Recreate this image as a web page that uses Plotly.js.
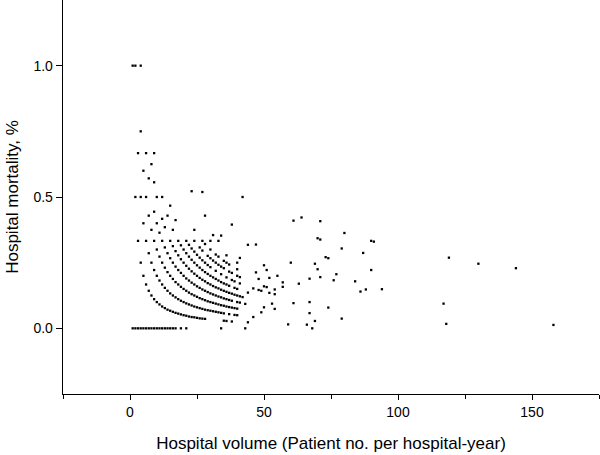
<!DOCTYPE html>
<html>
<head>
<meta charset="utf-8">
<script src="https://cdn.plot.ly/plotly-3.0.1.min.js"></script>
<style>html,body{margin:0;padding:0;background:#fff}#chart{width:600px;height:455px}</style>
</head>
<body>
<div id="chart"></div>
<script>
// Low-volume hospitals: one entry per volume, with the mortality values read at that volume
const columnVolumes = [1,2,3,4,5,6,7,8,9,10,11,12,13,14,15,16,17,18,19,20,21,22,23,24,25,26,27,28,29,30,31,32,33,34,35,36,37,38,39,40,41,42];
const columnMortality = [
  [0, 1],
  [0, 0.5, 1],
  [0, 0.333, 0.667],
  [0, 0.25, 0.5, 0.75, 1],
  [0, 0.2, 0.4, 0.6],
  [0, 0.167, 0.333, 0.5, 0.667],
  [0, 0.143, 0.286, 0.429, 0.571],
  [0, 0.125, 0.25, 0.375, 0.625],
  [0, 0.111, 0.222, 0.333, 0.444, 0.556, 0.667],
  [0, 0.1, 0.2, 0.3, 0.4, 0.5],
  [0, 0.091, 0.182, 0.273, 0.364],
  [0, 0.083, 0.167, 0.25, 0.333, 0.417, 0.5],
  [0, 0.077, 0.154, 0.231, 0.308, 0.385],
  [0, 0.071, 0.143, 0.214, 0.286, 0.429],
  [0, 0.067, 0.133, 0.2, 0.267, 0.333, 0.467],
  [0, 0.063, 0.125, 0.188, 0.25, 0.313, 0.375],
  [0, 0.059, 0.118, 0.176, 0.235, 0.294, 0.412],
  [0.056, 0.111, 0.167, 0.222, 0.278, 0.333],
  [0, 0.053, 0.105, 0.158, 0.211, 0.263, 0.316],
  [0.05, 0.1, 0.15, 0.2, 0.25, 0.3],
  [0, 0.048, 0.095, 0.143, 0.19, 0.238, 0.286, 0.333],
  [0.045, 0.091, 0.136, 0.182, 0.227, 0.273, 0.318],
  [0.043, 0.087, 0.13, 0.174, 0.217, 0.261, 0.304, 0.522],
  [0.042, 0.083, 0.125, 0.167, 0.208, 0.25, 0.292, 0.333, 0.375],
  [0.04, 0.08, 0.12, 0.16, 0.2, 0.24, 0.28],
  [0.038, 0.077, 0.115, 0.154, 0.192, 0.231, 0.269, 0.308],
  [0.037, 0.074, 0.111, 0.148, 0.185, 0.222, 0.259, 0.296, 0.333, 0.519],
  [0.036, 0.071, 0.107, 0.143, 0.179, 0.214, 0.25, 0.321, 0.429],
  [0.069, 0.103, 0.138, 0.172, 0.207, 0.241, 0.276],
  [0.067, 0.1, 0.133, 0.167, 0.2, 0.233, 0.267, 0.3, 0.333],
  [0.065, 0.097, 0.129, 0.161, 0.194, 0.258, 0.355],
  [0.063, 0.094, 0.125, 0.156, 0.188, 0.219, 0.25, 0.281],
  [0.061, 0.091, 0.121, 0.152, 0.182, 0.242, 0.273, 0.333],
  [0, 0.059, 0.088, 0.118, 0.147, 0.176, 0.206, 0.235, 0.353],
  [0.029, 0.057, 0.086, 0.114, 0.143, 0.171, 0.229, 0.257],
  [0.028, 0.083, 0.111, 0.139, 0.167, 0.194, 0.25, 0.278],
  [0.054, 0.081, 0.108, 0.135, 0.162, 0.216, 0.243],
  [0.026, 0.079, 0.105, 0.132, 0.184, 0.211, 0.395],
  [0.051, 0.077, 0.128, 0.154, 0.179],
  [0.05, 0.075, 0.1, 0.125, 0.15, 0.2, 0.225, 0.25],
  [0.098, 0.122, 0.171, 0.195, 0.268],
  [0.119, 0.5]
];

// Higher-volume hospitals, read point by point
const highVolume = [43, 43, 44, 44, 44, 46, 46, 47, 47, 48, 48, 49, 49, 50, 50, 50, 51, 51, 52, 52, 53, 54, 54, 54, 55, 57, 57,
  59, 60, 61, 61, 63, 64, 66, 67, 67, 67, 68, 69, 69, 70, 70, 71, 71, 71, 73, 74, 74, 76, 77, 79, 79, 80, 84, 86, 88, 87, 90, 90, 91, 94,
  117, 118, 119, 130, 144, 158];
const highMortality = [0, 0.093, 0.318, 0.136, 0.023, 0.152, 0.043, 0.319, 0.213, 0.188, 0.146, 0.143, 0.061, 0.24, 0.16, 0.08, 0.222, 0.157, 0.192, 0.135, 0.094, 0.148, 0.13, 0.074, 0.2, 0.175, 0.158,
  0.015, 0.25, 0.41, 0.096, 0.17, 0.422, 0.014, 0.189, 0.1, 0.058, 0, 0.246, 0.028, 0.343, 0.225, 0.408, 0.338, 0.195, 0.271, 0.267, 0.079, 0.183, 0.206, 0.304, 0.037, 0.363, 0.179, 0.14, 0.148, 0.287, 0.333, 0.222, 0.33, 0.149,
  0.094, 0.017, 0.269, 0.246, 0.229, 0.013];

const xs = [], ys = [];
columnVolumes.forEach((v, i) => columnMortality[i].forEach(m => { xs.push(v); ys.push(m); }));
highVolume.forEach((v, i) => { xs.push(v); ys.push(highMortality[i]); });

const font = {family: 'Liberation Sans, Arial, sans-serif', color: '#000'};

Plotly.newPlot('chart', [{
  type: 'scatter', mode: 'markers', x: xs, y: ys,
  marker: {symbol: 'square', size: 2.3, color: '#000', line: {width: 0}},
  hoverinfo: 'x+y', showlegend: false
}], {
  width: 600, height: 455,
  margin: {l: 63, r: 1, t: 0, b: 61, pad: 0},
  paper_bgcolor: '#fff', plot_bgcolor: '#fff',
  font: Object.assign({size: 14}, font),
  xaxis: {
    range: [-25, 175], tickvals: [0, 50, 100, 150], ticktext: ['0', '50', '100', '150'],
    ticks: 'outside', ticklen: 5, tickwidth: 1, tickcolor: '#000',
    minor: {tickvals: [-25, 25, 75, 125, 175], ticks: 'outside', ticklen: 4, tickcolor: '#000'},
    showline: true, linecolor: '#000', linewidth: 1.3, zeroline: false, showgrid: false,
    tickfont: Object.assign({size: 14}, font), automargin: false,
    title: {text: 'Hospital volume (Patient no. per hospital-year)', font: Object.assign({size: 17}, font), standoff: 18}
  },
  yaxis: {
    range: [-0.25, 1.25], tickvals: [0, 0.5, 1], ticktext: ['0.0', '0.5', '1.0'],
    ticks: 'outside', ticklen: 6, tickwidth: 1, tickcolor: '#000',
    showline: true, linecolor: '#000', linewidth: 1.3, zeroline: false, showgrid: false,
    tickfont: Object.assign({size: 14}, font), automargin: false,
    title: {text: 'Hospital mortality, %', font: Object.assign({size: 17}, font), standoff: 10}
  }
}, {displayModeBar: false, staticPlot: true});
</script>
</body>
</html>
